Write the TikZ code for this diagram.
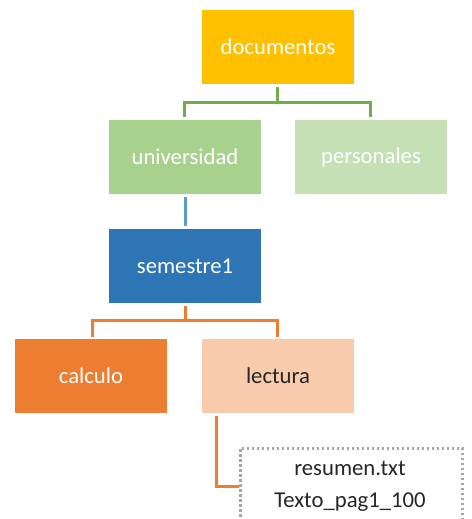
\documentclass[tikz,border=0pt]{standalone}
\usepackage{fontspec}
\setmainfont{Carlito}
\definecolor{cyellow}{HTML}{FFC000}
\definecolor{cgreen}{HTML}{A9D18E}
\definecolor{clgreen}{HTML}{C5E0B4}
\definecolor{cblue}{HTML}{2E75B6}
\definecolor{corange}{HTML}{ED7D31}
\definecolor{cpeach}{HTML}{F8CBAD}
\definecolor{lgreen}{HTML}{70AD47}
\definecolor{lblue}{HTML}{5B9BD5}
\definecolor{lorange}{HTML}{ED7D31}
\definecolor{cgray}{HTML}{A6A6A6}
\begin{document}
\begin{tikzpicture}[x=1pt,y=-1pt,
  box/.style={minimum width=152pt,minimum height=74pt,inner sep=0pt,font=\fontsize{22.7}{26}\selectfont,text=white},
  conn/.style={line width=3pt}]
\useasboundingbox (0,0) rectangle (471,519);
\begin{scope}
\clip (0,0) rectangle (471,519);
\node[box,fill=cyellow] (doc) at (278,47) {documentos};
\node[box,fill=cgreen] (uni) at (185,157) {universidad};
\node[box,fill=clgreen] (per) at (371,157) {personales};
\node[box,fill=cblue] (sem) at (185,266) {semestre1};
\node[box,fill=corange] (cal) at (91,376) {calculo};
\node[box,fill=cpeach,text=black!85] (lec) at (278,376) {lectura};
\node[draw=cgray,line width=2.5pt,dash pattern=on 2.5pt off 2.5pt,minimum width=222pt,minimum height=90pt,inner sep=0pt,anchor=north west] (files) at (239,447) {};
\node[font=\fontsize{22.7}{26}\selectfont,text=black!85] (res) at (350,468) {resumen.txt};
\node[font=\fontsize{22.7}{26}\selectfont,text=black!85] (tex) at (350,502) {Texto\_pag1\_100};
\coordinate (g) at (277,102);
\draw[conn,lgreen] ([yshift=-3pt]doc.south -| g) -- (g);
\draw[conn,lgreen] (184,117) |- (g) -| (370,117);
\draw[conn,lblue] ([yshift=-3pt]uni.south) -- ([yshift=3pt]sem.north);
\coordinate (o) at (185,320);
\draw[conn,lorange] ([yshift=-3pt]sem.south) -- (o);
\draw[conn,lorange] (92,337) |- (o) -| (277,337);
\coordinate (fl) at (216,486);
\draw[conn,lorange] ([yshift=-3pt]lec.south -| fl) -- (fl) -- (fl -| files.west);
\end{scope}
\end{tikzpicture}
\end{document}
